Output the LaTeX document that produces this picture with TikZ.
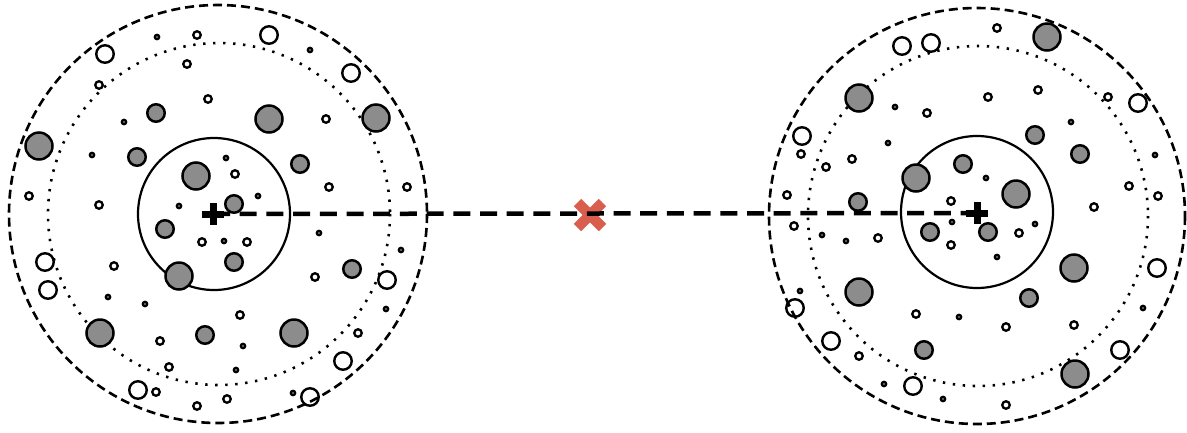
\documentclass[tikz,border=0pt]{standalone}
\usetikzlibrary{shapes.geometric}
\definecolor{gfill}{RGB}{140,140,140}
\definecolor{xred}{RGB}{218,94,78}
\tikzset{
  pt/.style={circle,draw=black,inner sep=0pt,outer sep=0pt},
  bigG/.style={pt,fill=gfill,line width=2.5pt,minimum size=27pt},
  medG/.style={pt,fill=gfill,line width=2.5pt,minimum size=17.5pt},
  bigW/.style={pt,line width=2.4pt,minimum size=17.5pt},
  ringW/.style={pt,line width=2.3pt,minimum size=7.5pt},
  tinyW/.style={pt,line width=2.4pt,minimum size=4.2pt},
  outerc/.style={line width=2.6pt,dash pattern=on 9pt off 5pt},
  midc/.style={line width=2.6pt,dash pattern=on 2.4pt off 7.6pt},
  innerc/.style={line width=2.2pt},
  link/.style={line width=4.5pt,dash pattern=on 17pt off 9.7pt},
}
\newcommand{\plusmark}[1]{%
  \fill ([shift={(-11,-3.5)}]#1) rectangle ([shift={(11,3.5)}]#1);
  \fill ([shift={(-3.5,-11)}]#1) rectangle ([shift={(3.5,11)}]#1);}
\begin{document}
\begin{tikzpicture}[x=1pt,y=-1pt]
\useasboundingbox (0,0) rectangle (1187,432);
\fill[white] (0,0) rectangle (1187,432);
% reference centres
\coordinate (lo) at (218,214);
\coordinate (ld) at (219,214);
\coordinate (li) at (214,214);
\coordinate (lc) at (213,214);
\coordinate (ro) at (977,216);
\coordinate (rd) at (978,216);
\coordinate (ri) at (977,212);
\coordinate (rc) at (977,213);
\coordinate (mx) at (590,215);
% big rings
\draw[outerc] (lo) circle[radius=209];
\draw[midc] (ld) circle[radius=171];
\draw[innerc] (li) circle[radius=76];
\draw[outerc] (ro) circle[radius=208];
\draw[midc] (rd) circle[radius=170];
\draw[innerc] (ri) circle[radius=76];
% red cross
\draw[xred,line width=10.5pt] ([shift={(-12.5,-12.5)}]mx) -- ([shift={(12.5,12.5)}]mx);
\draw[xred,line width=10.5pt] ([shift={(-12.5,12.5)}]mx) -- ([shift={(12.5,-12.5)}]mx);
% connecting dashed line
\draw[link] (lc) -- (rc);
% left system
\foreach \x/\y [count=\i] in {39/146,196/176,269/119,376/118,179/276,100/333,294/333}
  \node[bigG] (lbg\i) at (\x,\y) {};
\foreach \x/\y [count=\i] in {156/113,137/157,300/164,234/204,165/229,234/262,205/335,352/269}
  \node[medG] (lmg\i) at (\x,\y) {};
\foreach \x/\y [count=\i] in {105/54,269/35,351/73,45/262,48/290,138/390,387/280,343/361,310/397}
  \node[bigW] (lbw\i) at (\x,\y) {};
\foreach \x/\y [count=\i] in {197/35,187/64,99/85,208/99,326/119,235/174,29/196,99/205,329/187,407/187,202/242,247/242,114/266,160/341,169/367,156/392,197/406,315/277,240/315,358/333,227/399}
  \node[ringW] (lr\i) at (\x,\y) {};
\foreach \x/\y [count=\i] in {157/37,310/50,124/122,92/155,226/158,258/196,179/206,224/241,108/297,145/304,319/233,401/250,386/309,243/346,236/370,293/393}
  \node[tinyW] (lt\i) at (\x,\y) {};
% right system
\foreach \x/\y [count=\i] in {859/98,1047/37,916/178,1016/194,859/292,1074/268,1075/374}
  \node[bigG] (rbg\i) at (\x,\y) {};
\foreach \x/\y [count=\i] in {963/164,858/202,1035/135,1080/154,930/232,988/232,924/350,1029/298}
  \node[medG] (rmg\i) at (\x,\y) {};
\foreach \x/\y [count=\i] in {902/46,931/43,802/136,1138/103,795/308,831/341,913/386,1157/268,1120/350}
  \node[bigW] (rbw\i) at (\x,\y) {};
\foreach \x/\y [count=\i] in {927/113,801/154,852/159,826/167,787/195,997/28,988/97,1108/97,1129/186,1158/196,1094/207,951/201,794/226,878/238,951/245,1019/233,916/314,859/356,1006/327,1074/325,1006/405,1038/90}
  \node[ringW] (rr\i) at (\x,\y) {};
\foreach \x/\y [count=\i] in {895/107,888/143,1071/122,1155/155,986/178,822/235,846/241,952/222,800/291,959/317,884/384,943/399,1035/224,997/257,1143/308}
  \node[tinyW] (rt\i) at (\x,\y) {};
% centre marks
\plusmark{lc}
\plusmark{rc}
\end{tikzpicture}
\end{document}
